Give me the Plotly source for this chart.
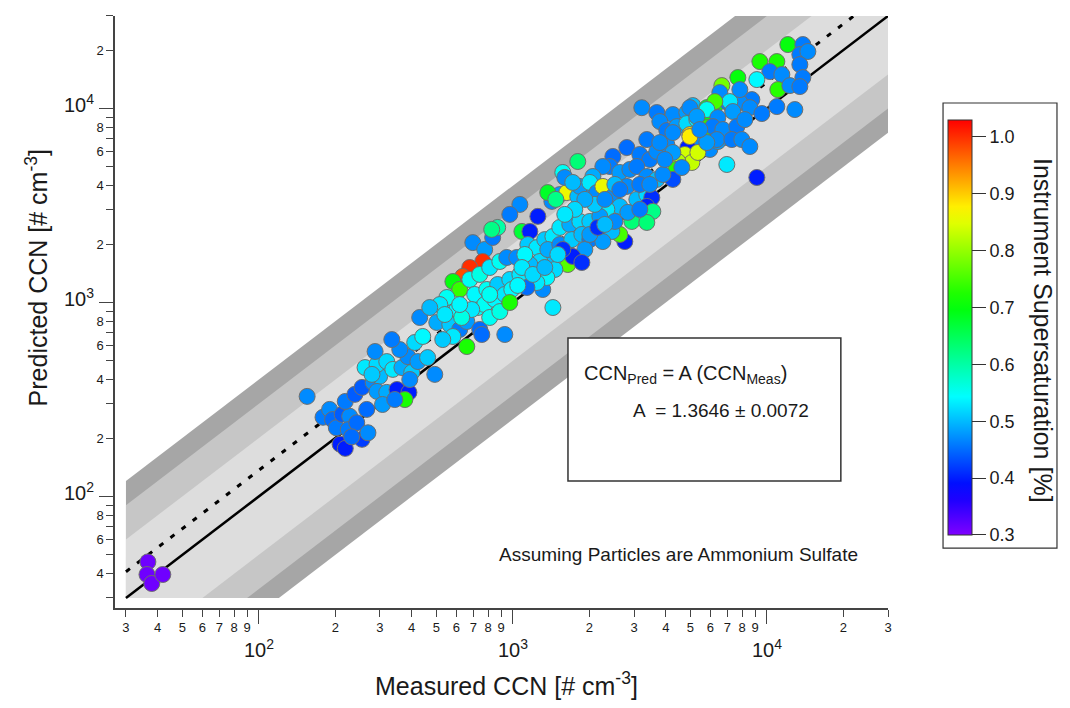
import colorsys
import numpy as np
import plotly.graph_objects as go

# ---------------- data ----------------
measured_ccn = [
    155, 179, 190, 195, 202, 209, 219, 213, 228, 225, 243, 255, 269, 219, 239, 255, 282, 299, 292, 319,
    307, 266, 350, 390, 376, 262, 292, 279, 287, 319, 337, 366, 400, 386, 423, 462, 493, 411, 442, 359,
    334, 430, 502, 550, 602, 565, 618, 659, 581, 659, 530, 741, 728, 696, 775, 833, 872, 1086, 762, 677,
    635, 581, 618, 550, 516, 471, 677, 741, 811, 889, 947, 1037, 708, 790, 872, 973, 1066, 775, 849, 930,
    991, 689, 629, 811, 889, 973, 755, 930, 1167, 1255, 1146, 1243, 1336, 1438, 1531, 1676, 1836, 2010, 1425, 1531,
    1631, 1802, 2010, 1631, 1754, 1646, 1312, 1438, 1399, 1464, 1361, 1243, 1136, 1277, 1167, 1115, 1373, 1531, 1707, 1870,
    2010, 1921, 3220, 3689, 4266, 4842, 5113, 5805, 6356, 7023, 7348, 1802, 1573, 3791, 4039, 4423, 4842, 5302, 5805, 4976,
    5805, 6531, 6959, 5448, 5965, 6414, 4886, 4755, 5067, 4464, 4383, 4266, 4627, 6959, 2811, 3162, 3462, 3689, 4039, 4266,
    2477, 2410, 2638, 2889, 3078, 3369, 3689, 3896, 2262, 2066, 1836, 2010, 2142, 2262, 2811, 3078, 3369, 2477, 2638, 2345,
    2201, 3525, 3369, 3558, 2942, 3369, 2760, 2638, 2454, 2262, 1722, 1573, 3162, 2522, 2103, 1921, 1754, 1602, 12099, 13861,
    13489, 14505, 9386, 10950, 10277, 11458, 13489, 13861, 9135, 7689, 6651, 6531, 11051, 12320, 13489, 8730, 7830, 7151, 6242, 7348,
    8573, 9558, 10950, 12892, 4976, 5805, 5302, 6414, 6130, 6711, 7619, 6356, 7282, 7973, 8573, 4976, 9135, 5351, 5805, 8193,
    1373, 1477, 1602, 1722, 826, 2522, 2837, 3162, 2010, 2161, 2303, 1870, 36.6, 36.3, 37.9, 41.9, 3369, 3791, 4266, 1066,
    973, 1086, 1199, 1046, 1336, 1504, 618, 540, 811, 2638, 3462, 3967, 5448, 7830, 2303, 393, 343, 232,
]
predicted_ccn = [
    328, 256, 281, 249, 226, 186, 177, 265, 259, 221, 240, 197, 213, 309, 336, 365, 387, 416, 348, 344,
    298, 281, 356, 344, 316, 462, 479, 426, 559, 496, 452, 462, 436, 526, 496, 520, 426, 622, 668, 572,
    644, 837, 789, 888, 920, 770, 726, 798, 668, 593, 644, 726, 942, 2036, 1876, 2164, 2437, 2324, 1627, 1515,
    1362, 1283, 1167, 1061, 976, 942, 1314, 1395, 1515, 1627, 1706, 1706, 1100, 1167, 1238, 1314, 1395, 976, 1036, 1100,
    1167, 920, 837, 837, 898, 1000, 684, 684, 2324, 2780, 1989, 1919, 2110, 2190, 2437, 2526, 2617, 2617, 3320, 3600,
    3687, 3516, 3600, 1832, 1706, 1570, 1167, 942, 1666, 1480, 1346, 1268, 1195, 1627, 1570, 1768, 1876, 1989, 2110, 2243,
    2110, 1876, 10100, 9535, 9311, 9535, 10356, 10111, 10605, 10732, 9880, 5332, 4681, 8565, 7698, 8071, 8364, 8770, 9093, 7341,
    7975, 7790, 7084, 6678, 6150, 6758, 6293, 5796, 5269, 5332, 4850, 4310, 4965, 5146, 6293, 5796, 5460, 6006, 6522, 5935,
    5660, 5025, 4681, 4850, 5025, 4463, 4310, 4571, 5025, 4463, 3966, 4159, 3687, 3966, 3966, 3400, 3600, 3516, 3129, 3020,
    2780, 3474, 3129, 2949, 2617, 2586, 2061, 2243, 2324, 2061, 1727, 1876, 4062, 4062, 3204, 3400, 3020, 2846, 21374, 21374,
    18980, 19670, 17462, 17462, 15509, 14965, 16850, 14440, 14100, 14440, 13131, 12083, 12520, 13131, 12976, 11120, 10732, 10860, 10860, 9649,
    10111, 9422, 10234, 9880, 10111, 9880, 9093, 8984, 8071, 7790, 8071, 6920, 6920, 6920, 6368, 7169, 4410, 5935, 6678, 8770,
    3687, 3400, 4410, 4159, 2380, 2617, 2915, 3020, 2243, 2437, 2526, 1608, 46.0, 39.6, 35.6, 39.6, 6920, 6678, 7518, 3204,
    2846, 1515, 1395, 1224, 1515, 1768, 976, 867, 1100, 3820, 4062, 5460, 7790, 12520, 3400, 401, 316, 203,
]
supersaturation = [
    0.47, 0.46, 0.47, 0.45, 0.46, 0.40, 0.40, 0.44, 0.47, 0.46, 0.45, 0.42, 0.47, 0.46, 0.44, 0.44, 0.47, 0.50, 0.48, 0.49,
    0.48, 0.45, 0.40, 0.40, 0.72, 0.53, 0.52, 0.51, 0.47, 0.52, 0.53, 0.49, 0.51, 0.47, 0.48, 0.51, 0.47, 0.52, 0.54, 0.47,
    0.46, 0.47, 0.49, 0.52, 0.54, 0.51, 0.46, 0.48, 0.53, 0.72, 0.51, 0.45, 0.55, 0.47, 0.48, 0.46, 0.60, 0.67, 1.00, 1.00,
    0.98, 0.70, 0.74, 0.55, 0.53, 0.50, 0.55, 0.56, 0.53, 0.55, 0.47, 0.47, 0.54, 0.55, 0.51, 0.52, 0.53, 0.55, 0.54, 0.53,
    0.54, 0.53, 0.56, 0.55, 0.56, 0.72, 0.45, 0.47, 0.40, 0.40, 0.51, 0.53, 0.51, 0.53, 0.53, 0.49, 0.52, 0.51, 0.47, 0.48,
    0.86, 0.50, 0.48, 0.40, 0.40, 0.76, 0.47, 0.53, 0.50, 0.52, 0.54, 0.53, 0.45, 0.52, 0.50, 0.54, 0.49, 0.47, 0.51, 0.50,
    0.46, 0.48, 0.47, 0.46, 0.47, 0.48, 0.50, 0.68, 0.70, 0.46, 0.45, 0.63, 0.55, 0.47, 0.46, 0.48, 0.52, 0.53, 0.70, 0.89,
    0.73, 0.46, 0.46, 0.47, 0.47, 0.48, 0.40, 0.84, 0.83, 0.82, 0.73, 0.43, 0.47, 0.53, 0.45, 0.46, 0.46, 0.47, 0.47, 0.48,
    0.45, 0.46, 0.48, 0.47, 0.46, 0.47, 0.50, 0.47, 0.47, 0.49, 0.48, 0.53, 0.47, 0.86, 0.47, 0.50, 0.52, 0.47, 0.50, 0.53,
    0.48, 0.41, 0.40, 0.62, 0.63, 0.63, 0.40, 0.75, 0.50, 0.48, 0.40, 0.41, 0.46, 0.50, 0.51, 0.49, 0.52, 0.53, 0.70, 0.46,
    0.46, 0.47, 0.72, 0.72, 0.46, 0.47, 0.46, 0.46, 0.54, 0.70, 0.78, 0.47, 0.73, 0.47, 0.46, 0.46, 0.47, 0.53, 0.75, 0.48,
    0.47, 0.46, 0.46, 0.47, 0.47, 0.55, 0.48, 0.47, 0.46, 0.47, 0.46, 0.47, 0.46, 0.47, 0.47, 0.88, 0.40, 0.84, 0.48, 0.47,
    0.68, 0.62, 0.47, 0.50, 0.62, 0.47, 0.48, 0.46, 0.48, 0.41, 0.50, 0.41, 0.31, 0.31, 0.31, 0.31, 0.46, 0.47, 0.47, 0.47,
    0.46, 0.53, 0.52, 0.54, 0.50, 0.52, 0.54, 0.53, 0.55, 0.46, 0.47, 0.47, 0.47, 0.47, 0.47, 0.47, 0.46, 0.45,
]

axis_min, axis_max = 30, 30000
fit_slope = 1.3646
band_factors = [4, 3, 2]
band_colors = ["#a6a6a6", "#c6c6c6", "#dddddd"]

x_tick_vals = [30, 40, 50, 60, 70, 80, 90, 200, 300, 400, 500, 600, 700, 800, 900,
               2000, 3000, 4000, 5000, 6000, 7000, 8000, 9000, 20000, 30000]
x_tick_text = ["3", "4", "5", "6", "7", "8", "9", "2", "3", "4", "5", "6", "7", "8", "9",
               "2", "3", "4", "5", "6", "7", "8", "9", "2", "3"]
y_tick_vals = x_tick_vals
y_tick_text = ["", "4", "", "6", "", "8", "", "2", "", "4", "", "6", "", "8", "",
               "2", "", "4", "", "6", "", "8", "", "2", ""]
decade_vals = [100, 1000, 10000]
decade_text = ["10<sup>2</sup>", "10<sup>3</sup>", "10<sup>4</sup>"]

cbar_tickvals = [0.3, 0.4, 0.5, 0.6, 0.7, 0.8, 0.9, 1.0]
cbar_min, cbar_max = 0.3, 1.03

FONT = "Liberation Sans, Arial, sans-serif"
INK = "#1a1a1a"
AX = "#444444"

# rainbow colour scale (violet -> red)
n_stops = 25
colorscale = []
for i in range(n_stops):
    t = i / (n_stops - 1)
    r, g, b = colorsys.hsv_to_rgb((270 * (1 - t)) / 360.0, 1, 1)
    colorscale.append([t, f"rgb({int(r*255)},{int(g*255)},{int(b*255)})"])

fig = go.Figure()

# shaded bands around the 1:1 line
L, U = axis_min, axis_max
for k, col in zip(band_factors, band_colors):
    bx = [L, k * L, U, U, U / k, L, L]
    by = [L, L, U / k, U, U, k * L, L]
    fig.add_trace(go.Scatter(x=bx, y=by, mode="lines", fill="toself", fillcolor=col,
                             line=dict(width=0, color=col), hoverinfo="skip", showlegend=False))

# 1:1 line
fig.add_trace(go.Scatter(x=[L, U], y=[L, U], mode="lines",
                         line=dict(color="black", width=2.5), showlegend=False, hoverinfo="skip"))
# fit line
fig.add_trace(go.Scatter(x=[L, U / fit_slope], y=[L * fit_slope, U], mode="lines",
                         line=dict(color="black", width=3, dash="5px,9px"),
                         showlegend=False, hoverinfo="skip"))

# scatter points
fig.add_trace(go.Scatter(
    x=measured_ccn, y=predicted_ccn, mode="markers", showlegend=False,
    marker=dict(size=16, color=supersaturation, colorscale=colorscale,
                cmin=cbar_min, cmax=cbar_max,
                line=dict(color="#6e6e6e", width=1),
                colorbar=dict(
                    thickness=24, thicknessmode="pixels",
                    len=445, lenmode="pixels",
                    x=1.0712, xanchor="left", y=0.474, yanchor="middle",
                    xpad=5, ypad=15,
                    outlinewidth=1, outlinecolor="#333333",
                    borderwidth=0,
                    tickmode="array", tickvals=cbar_tickvals,
                    ticktext=[f"{v:.1f}" for v in cbar_tickvals],
                    ticks="outside", ticklen=14, tickcolor="#333333",
                    tickfont=dict(family=FONT, size=18, color=INK),
                ))))

axis_common = dict(
    type="log", showgrid=False, zeroline=False, showline=True, linecolor=AX, linewidth=1.5,
    ticks="outside", ticklen=7, tickwidth=1.2, tickcolor=AX,
    tickfont=dict(family=FONT, size=13, color=INK), tickmode="array",
    minor=dict(tickmode="array", tickvals=decade_vals, ticks="outside", ticklen=14,
               tickwidth=1.2, tickcolor=AX, showgrid=False),
)

fig.update_layout(
    width=1070, height=708, autosize=False,
    margin=dict(l=115, r=182, t=16, b=100),
    plot_bgcolor="white", paper_bgcolor="white",
    font=dict(family=FONT, color=INK),
    xaxis=dict(axis_common, range=[1.434, 4.477], tickvals=x_tick_vals, ticktext=x_tick_text),
    yaxis=dict(axis_common, range=[1.425, 4.477], tickvals=y_tick_vals, ticktext=y_tick_text),
)

annotations = []
for v, t in zip(decade_vals, decade_text):
    annotations.append(dict(x=np.log10(v), xref="x", y=-0.068, yref="paper", text=t,
                            showarrow=False, xanchor="center", yanchor="middle",
                            font=dict(family=FONT, size=20, color=INK)))
    annotations.append(dict(x=-0.024, xref="paper", y=np.log10(v), yref="y", text=t,
                            showarrow=False, xanchor="right", yanchor="middle", yshift=5,
                            font=dict(family=FONT, size=20, color=INK)))

annotations += [
    dict(x=0.507, y=-0.159, xref="paper", yref="paper", showarrow=False,
         text="Measured CCN [# cm<sup>-3</sup>]", font=dict(family=FONT, size=25, color=INK)),
    dict(x=-0.124, y=0.557, xref="paper", yref="paper", showarrow=False, textangle=-90,
         text="Predicted CCN [# cm<sup>-3</sup>]", font=dict(family=FONT, size=25, color=INK)),
    dict(x=0.604, y=0.394, xref="paper", yref="paper", showarrow=False, xanchor="left",
         text="CCN<sub>Pred</sub> = A (CCN<sub>Meas</sub>)", font=dict(family=FONT, size=20, color=INK)),
    dict(x=0.6675, y=0.3125, xref="paper", yref="paper", showarrow=False, xanchor="left",
         text="A  = 1.3646 ± 0.0072", font=dict(family=FONT, size=19, color=INK)),
    dict(x=0.494, y=0.069, xref="paper", yref="paper", showarrow=False, xanchor="left",
         text="Assuming Particles are Ammonium Sulfate", font=dict(family=FONT, size=19, color=INK)),
    dict(x=1.2212, y=0.468, xref="paper", yref="paper", showarrow=False, textangle=90,
         text="Instrument Supersaturation [%]", font=dict(family=FONT, size=25, color=INK)),
]
fig.update_layout(annotations=annotations)

fig.add_shape(type="rect", xref="paper", yref="paper", x0=0.586, x1=0.939, y0=0.2145, y1=0.456,
              line=dict(color="#333333", width=1.5), fillcolor="white", layer="above")
# frame around the colour bar and its title
fig.add_shape(type="rect", xref="paper", yref="paper", x0=1.0712, x1=1.2186, y0=0.101, y1=0.853,
              line=dict(color="#333333", width=1.2), fillcolor="rgba(0,0,0,0)", layer="above")

fig.write_html("out.html")
